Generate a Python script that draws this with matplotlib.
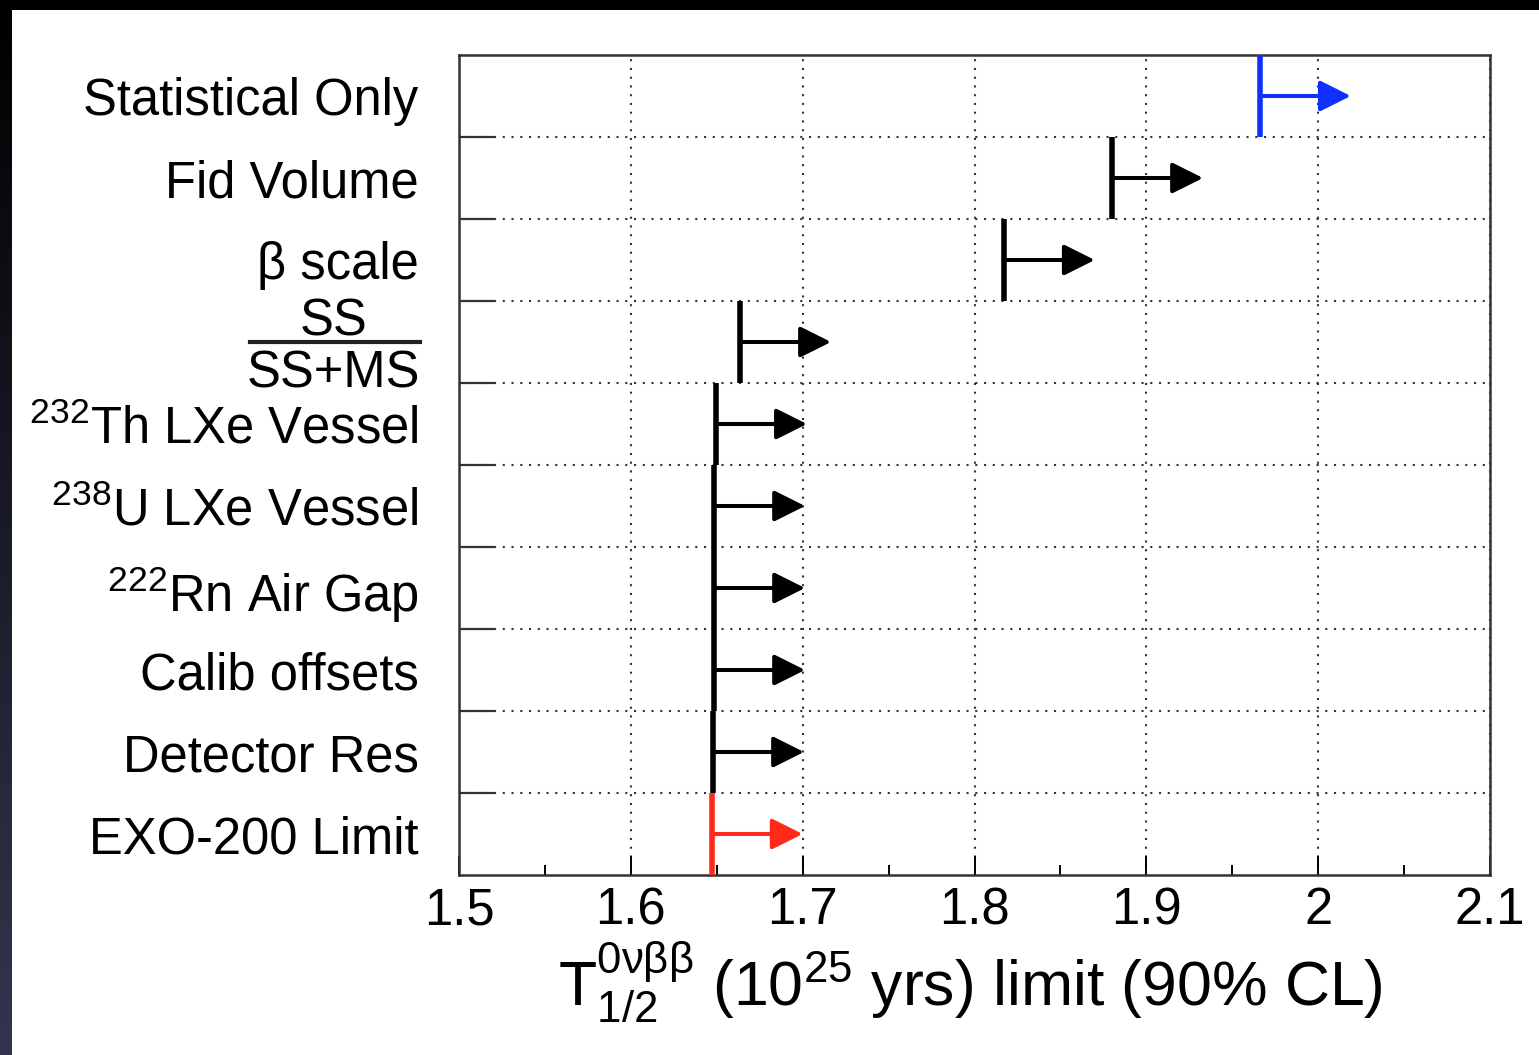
import numpy as np
import matplotlib
matplotlib.use('Agg')
import matplotlib.pyplot as plt
from matplotlib.patches import Rectangle
from matplotlib.lines import Line2D
from matplotlib.transforms import blended_transform_factory

plt.rcParams['font.family'] = ['Liberation Sans', 'DejaVu Sans']
plt.rcParams['mathtext.fontset'] = 'custom'
plt.rcParams['mathtext.rm'] = 'Liberation Sans'
plt.rcParams['mathtext.it'] = 'Liberation Sans:italic'
plt.rcParams['mathtext.bf'] = 'Liberation Sans:bold'

# rows, top to bottom
labels = ['Statistical Only', 'Fid Volume', 'β scale', ('SS', 'SS+MS'),
          r'$^{232}$Th LXe Vessel', r'$^{238}$U LXe Vessel',
          r'$^{222}$Rn Air Gap', 'Calib offsets', 'Detector Res',
          'EXO-200 Limit']
limits = [1.966, 1.880, 1.817, 1.6635, 1.6495, 1.6484, 1.6484, 1.6484,
          1.6478, 1.6470]   # 10^25 yrs, 90% CL
xticks = [1.5, 1.6, 1.7, 1.8, 1.9, 2.0, 2.1]
xticklabels = ['1.5', '1.6', '1.7', '1.8', '1.9', '2', '2.1']

ARROW = 0.053   # arrow length in x units
FS = 36.5
DOTS = (0, (1, 3.2))

fig = plt.figure(figsize=(15.39, 10.55), dpi=100)

# dark slide border with white panel
bg = fig.add_axes([0, 0, 1, 1], zorder=-10)
grad = np.linspace(0, 1, 256)[:, None, None] * np.array([0.20, 0.21, 0.31])[None, None, :]
bg.imshow(grad, aspect='auto', extent=[0, 1, 0, 1], origin='upper')
bg.set_axis_off()
fig.add_artist(Rectangle((12 / 1539, 0), 1, 1 - 10 / 1055, transform=fig.transFigure,
                         facecolor='white', edgecolor='none', zorder=-5))

ax = fig.add_axes([459 / 1539, 1 - 875 / 1055, 1031 / 1539, 820 / 1055])
n = len(labels)
ypos = np.arange(n)[::-1] + 0.5

for i, (y, v) in enumerate(zip(ypos, limits)):
    c = '#1030ff' if i == 0 else ('#ff2a1a' if i == n - 1 else 'black')
    ax.plot([v, v], [y - 0.5, y + 0.5], color=c, lw=4.0, solid_capstyle='butt', zorder=3)
    ax.annotate('', xy=(v + ARROW, y), xytext=(v, y),
                arrowprops=dict(arrowstyle='-|>,head_length=1.9,head_width=0.95',
                                color=c, lw=2.9, shrinkA=0, shrinkB=0,
                                mutation_scale=10), zorder=3)

ax.set_xlim(1.5, 2.1)
ax.set_ylim(0, n)
ax.set_xticks(xticks)
ax.set_xticklabels(xticklabels, fontsize=FS)
ax.set_xticks(np.arange(1.55, 2.1, 0.1), minor=True)
ax.set_yticks(ypos)
ax.set_yticklabels(['' if isinstance(l, tuple) else l for l in labels], fontsize=FS)
ax.set_yticks(np.arange(1, n), minor=True)

ax.tick_params(axis='x', which='major', direction='in', length=14, width=1.4, pad=8)
ax.tick_params(axis='x', which='minor', direction='in', length=7, width=1.4)
ax.tick_params(axis='y', which='major', length=0, pad=29)
ax.tick_params(axis='y', which='minor', direction='in', length=25, width=1.6, color='#333')

ax.xaxis.grid(True, which='major', linestyle=DOTS, color='#333', lw=1.5)
ax.yaxis.grid(True, which='minor', linestyle=DOTS, color='#333', lw=1.5)

for s in ax.spines.values():
    s.set_linewidth(1.8)
    s.set_color('#333')

# stacked fraction label SS / (SS+MS)
trans = blended_transform_factory(ax.transAxes, ax.transData)
for i, l in enumerate(labels):
    if not isinstance(l, tuple):
        continue
    y = ypos[i]
    den = ax.text(-0.0378, y - 0.56, l[1], transform=trans, ha='right', va='baseline',
                  fontsize=FS)
    fig.canvas.draw()
    bb = den.get_window_extent().transformed(ax.transAxes.inverted())
    ax.text((bb.x0 + bb.x1) / 2, y + 0.085, l[0], transform=trans, ha='center',
            va='baseline', fontsize=FS)
    ax.add_line(Line2D([bb.x0 + 0.003, bb.x1], [y, y], transform=trans, color='#222',
                       lw=3, clip_on=False))

ax.set_xlabel(r'$\mathrm{T}^{\mathrm{0\nu\beta\beta}}_{\mathrm{1/2}}$ (10$^{25}$ yrs) limit (90% CL)',
              fontsize=45)
ax.xaxis.set_label_coords(0.496, -0.079)

fig.savefig('out.png', dpi=100)
